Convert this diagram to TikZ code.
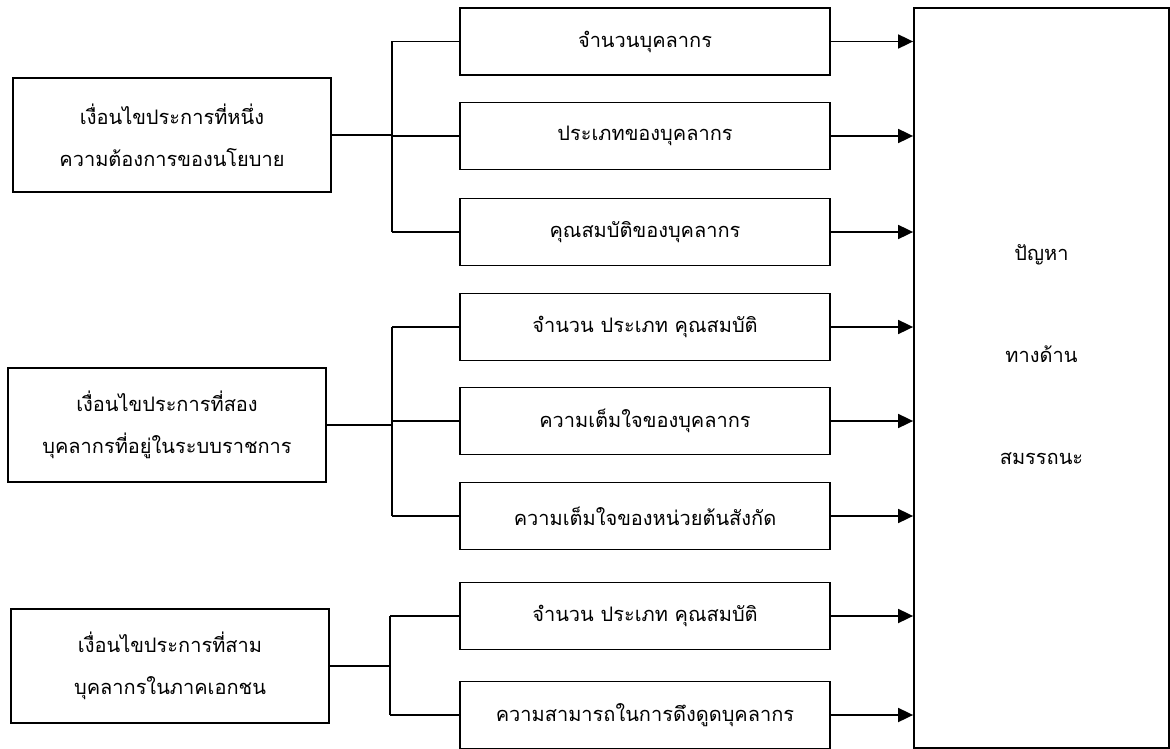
\documentclass[tikz,border=0pt]{standalone}
\usepackage{fontspec}
\newfontfamily\thaifont[Script=Thai]{Loma}
\usetikzlibrary{arrows.meta,positioning}
\tikzstyle{link}     =[line width=1.8pt]
\tikzstyle{arrowlink}=[line width=1.8pt,
                       -{Triangle[length=15pt,width=14pt]}]
\tikzstyle{condbox}  =[draw, line width=1.8pt, minimum width=318pt,
                       minimum height=114pt, inner sep=0pt, align=center,
                       font=\thaifont\fontsize{20}{42}\selectfont]
\tikzstyle{itembox}  =[draw, line width=1.8pt, minimum width=370pt,
                       minimum height=67pt, inner sep=0pt,
                       font=\thaifont\fontsize{20}{24}\selectfont]
\tikzstyle{goalbox}  =[draw, line width=1.8pt, minimum width=255pt,
                       minimum height=740pt, inner sep=0pt]

\begin{document}
\begin{tikzpicture}[x=1pt,y=-1pt]

    \useasboundingbox (0,0) rectangle (1170,749);

    % conditions
    \node (c1) [condbox] at (172,135) {เงื่อนไขประการที่หนึ่ง\\ความต้องการของนโยบาย};
    \node (c2) [condbox] at (167,425) {เงื่อนไขประการที่สอง\\บุคลากรที่อยู่ในระบบราชการ};
    \node (c3) [condbox] at (170,666) {เงื่อนไขประการที่สาม\\บุคลากรในภาคเอกชน};

    % items
    \foreach \n/\y/\t in {1/41.5/จำนวนบุคลากร,
                          2/136/ประเภทของบุคลากร,
                          3/232/คุณสมบัติของบุคลากร,
                          4/327/จำนวน ประเภท คุณสมบัติ,
                          5/421/ความเต็มใจของบุคลากร,
                          6/516/ความเต็มใจของหน่วยต้นสังกัด,
                          7/616/จำนวน ประเภท คุณสมบัติ,
                          8/715/ความสามารถในการดึงดูดบุคลากร}
        \node (m\n) [itembox] at (645,\y) {\t};

    % problem
    \node (goal) [goalbox] at (1041.5,378) {};
    \node (goaltxt) [align=center, font=\thaifont\fontsize{20}{42}\selectfont]
        at (1041.5,355) {ปัญหา\\[60pt]ทางด้าน\\[60pt]สมรรถนะ};

    % brackets
    \coordinate (j1) at (392,0);
    \coordinate (j2) at (392,0);
    \coordinate (j3) at (390,0);
    \draw [link] (c1.east) -- (c1.east -| j1);
    \draw [link] (m1.west -| j1) -- (m3.west -| j1);
    \foreach \n in {1,2,3}
        \draw [link] (m\n.west -| j1) -- (m\n.west);
    \draw [link] (c2.east) -- (c2.east -| j2);
    \draw [link] (m4.west -| j2) -- (m6.west -| j2);
    \foreach \n in {4,5,6}
        \draw [link] (m\n.west -| j2) -- (m\n.west);
    \draw [link] (c3.east) -- (c3.east -| j3);
    \draw [link] (m7.west -| j3) -- (m8.west -| j3);
    \foreach \n in {7,8}
        \draw [link] (m\n.west -| j3) -- (m\n.west);

    % arrows
    \foreach \n in {1,...,8}
        \draw [arrowlink] (m\n.east) -- (m\n.east -| goal.west);

\end{tikzpicture}
\end{document}
